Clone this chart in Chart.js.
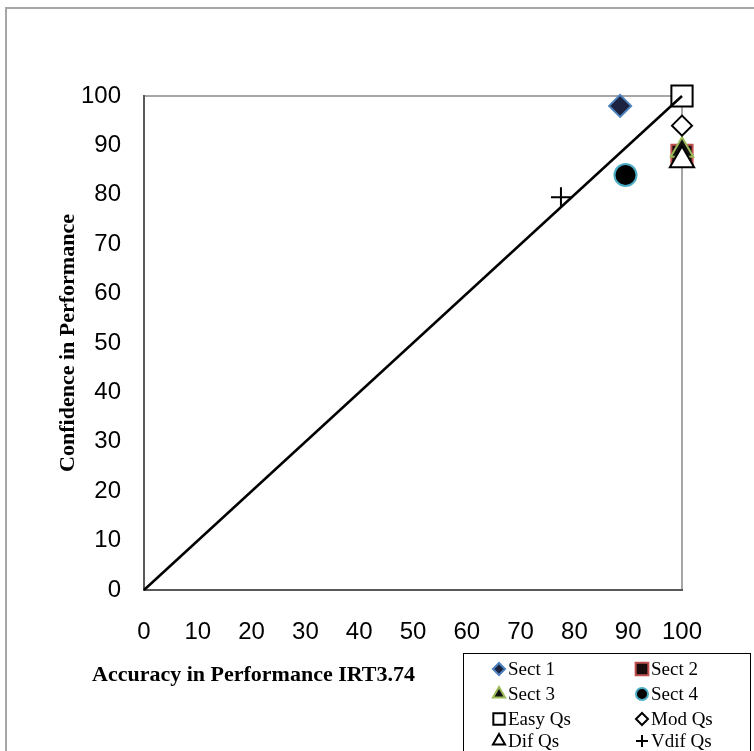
<!DOCTYPE html>
<html>
<head>
<meta charset="utf-8">
<script src="https://cdn.jsdelivr.net/npm/chart.js@4.4.0/dist/chart.umd.min.js"></script>
<style>
  html, body { margin: 0; padding: 0; background: #fff; overflow: hidden; }
  #wrap { position: relative; width: 754px; height: 751px; overflow: hidden; }
  #frame { position: absolute; left: 5px; top: 7px; width: 800px; height: 800px; border: 2px solid #a6a6a6; box-sizing: border-box; }
  #chart { position: absolute; left: 0; top: 0; }
  #xtitle { position: absolute; left: 92px; top: 661px; font: bold 22px 'Liberation Serif', serif; color: #000; white-space: nowrap; }
  #legend { position: absolute; left: 463px; top: 653px; width: 288px; height: 120px; border: 1px solid #000; background: #fff; box-sizing: border-box; font: 19px 'Liberation Serif', serif; color: #000; }
  #legend canvas, #legend span { position: absolute; }
  #legend span { line-height: 24px; white-space: nowrap; }
</style>
</head>
<body>
<div id="wrap">
  <div id="frame"></div>
  <canvas id="chart" width="754" height="751"></canvas>
  <div id="xtitle">Accuracy in Performance IRT3.74</div>
  <div id="legend"></div>
</div>
<script>
// --- Data ---
const seriesNames = ['Sect 1', 'Sect 2', 'Sect 3', 'Sect 4', 'Easy Qs', 'Mod Qs', 'Dif Qs', 'Vdif Qs'];
const accuracy = [88.5, 100, 100, 89.5, 100, 100, 100, 77.5];
const confidence = [98, 88, 89, 84, 100, 94, 87, 79.5];

// reference (perfect calibration) line
const refX = [0, 100];
const refY = [0, 100];

// axes
const axisMin = 0;
const axisMax = 100;
const axisStep = 10;

// --- Marker styles (one per series, same order) ---
const markerStyles = [
    { pointStyle: 'rectRot', radius: 11, fill: '#1b2340', stroke: '#4f81bd', width: 2 },
    { pointStyle: 'rect', radius: 15, fill: '#1a0c0c', stroke: '#c0504d', width: 2 },
    { pointStyle: 'triangle', radius: 13, fill: '#111111', stroke: '#9bbb59', width: 2 },
    { pointStyle: 'circle', radius: 11, fill: '#000000', stroke: '#4bacc6', width: 2 },
    { pointStyle: 'rect', radius: 15, fill: '#ffffff', stroke: '#000000', width: 2 },
    { pointStyle: 'rectRot', radius: 10, fill: '#ffffff', stroke: '#000000', width: 2 },
    { pointStyle: 'triangle', radius: 14, fill: '#ffffff', stroke: '#000000', width: 2 },
    { pointStyle: 'cross', radius: 10, fill: '#000000', stroke: '#000000', width: 2 }
];

// legend layout: [marker x, text x, row y] relative to the legend box, and marker radius
const legendSlots = [
    [35, 44, 15], [178, 187, 15],
    [35, 44, 40], [178, 187, 40],
    [35, 44, 65], [178, 187, 65],
    [35, 44, 87], [178, 187, 87]
];
const legendRadius = [6, 9, 7, 6, 8, 6, 7, 6];

// --- Build datasets ---
const datasets = seriesNames.map(function (name, i) {
    const m = markerStyles[i];
    return {
        label: name,
        data: [{ x: accuracy[i], y: confidence[i] }],
        pointStyle: m.pointStyle,
        pointRadius: m.radius,
        pointBackgroundColor: m.fill,
        pointBorderColor: m.stroke,
        pointBorderWidth: m.width,
        showLine: false,
        clip: false,
        order: 8 - i + 1
    };
});

datasets.push({
    label: 'ref',
    type: 'line',
    data: refX.map(function (x, i) { return { x: x, y: refY[i] }; }),
    borderColor: '#000',
    borderWidth: 2.5,
    pointRadius: 0,
    fill: false,
    clip: false,
    order: 0
});

// gray frame around the plot area (drawn under the axis lines)
const plotFrame = {
    id: 'plotFrame',
    beforeDraw: function (chart) {
        const a = chart.chartArea;
        const c = chart.ctx;
        c.save();
        c.strokeStyle = '#a6a6a6';
        c.lineWidth = 2;
        c.strokeRect(a.left, a.top, a.right - a.left, a.bottom - a.top);
        c.restore();
    }
};

const tickFont = { family: "'Liberation Sans', Arial, sans-serif", size: 24 };

new Chart(document.getElementById('chart').getContext('2d'), {
    type: 'scatter',
    data: { datasets: datasets },
    options: {
        responsive: false,
        animation: false,
        layout: { padding: { left: 5, top: 96, right: 72, bottom: 101 } },
        plugins: {
            legend: { display: false },
            tooltip: { enabled: false }
        },
        scales: {
            x: {
                type: 'linear',
                min: axisMin,
                max: axisMax,
                ticks: { stepSize: axisStep, font: tickFont, color: '#000', padding: 28, maxRotation: 0 },
                grid: { display: false, drawTicks: false },
                border: { display: true, color: '#595959', width: 2 },
                afterFit: function (scale) { scale.height = 60; }
            },
            y: {
                type: 'linear',
                min: axisMin,
                max: axisMax,
                ticks: { stepSize: axisStep, font: tickFont, color: '#000', padding: 23 },
                grid: { display: false, drawTicks: false },
                border: { display: true, color: '#595959', width: 2 },
                title: {
                    display: true,
                    text: 'Confidence in Performance',
                    color: '#000',
                    font: { family: "'Liberation Serif', 'Times New Roman', serif", size: 22, weight: 'bold' },
                    padding: { top: 50, bottom: 0 }
                },
                afterFit: function (scale) { scale.width = 139; }
            }
        }
    },
    plugins: [plotFrame]
});

// --- Legend (HTML box, markers drawn with Chart.js point helper) ---
const legendEl = document.getElementById('legend');
seriesNames.forEach(function (name, i) {
    const slot = legendSlots[i];
    const m = markerStyles[i];
    const cv = document.createElement('canvas');
    cv.width = 22; cv.height = 22;
    cv.style.left = (slot[0] - 11) + 'px';
    cv.style.top = (slot[2] - 11) + 'px';
    const ctx = cv.getContext('2d');
    ctx.fillStyle = m.fill;
    ctx.strokeStyle = m.stroke;
    ctx.lineWidth = m.width;
    Chart.helpers.drawPoint(ctx, {
        pointStyle: m.pointStyle,
        radius: legendRadius[i],
        borderWidth: m.width,
        rotation: 0
    }, 11, 11);
    legendEl.appendChild(cv);

    const sp = document.createElement('span');
    sp.textContent = name;
    sp.style.left = slot[1] + 'px';
    sp.style.top = (slot[2] - 12) + 'px';
    legendEl.appendChild(sp);
});
</script>
</body>
</html>
